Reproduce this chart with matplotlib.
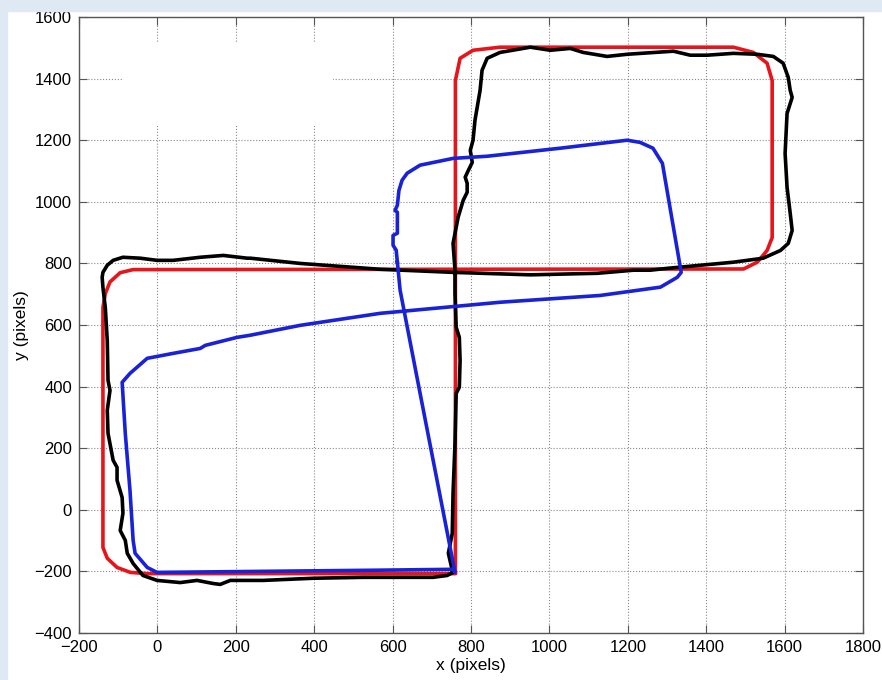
import matplotlib.pyplot as plt
from matplotlib.patches import Rectangle

plt.rcParams['font.family'] = ['Liberation Sans', 'DejaVu Sans']

# ground truth path (red)
red_x = [760, 760, 772, 805, 874, 1469, 1520, 1555, 1568, 1568, 1555, 1530, 1495,
         -62, -95, -121, -133, -139, -139, -128, -103, -69, -26, 760, 760]
red_y = [-205, 1394, 1466, 1492, 1502, 1502, 1485, 1450, 1394, 884, 842, 804, 782,
         780, 770, 740, 702, 657, -122, -157, -187, -203, -207, -207, -205]

# measured path (black)
black_x = [752, 742, 752, 754, 759, 762, 770, 772, 770, 762, 759, 759, 754, 767, 780,
           790, 790, 785, 793, 803, 798, 805, 810, 823, 828, 841, 874, 951, 1002,
           1053, 1086, 1147, 1198, 1316, 1359, 1402, 1469, 1530, 1571, 1596, 1609,
           1614, 1619, 1606, 1601, 1606, 1614, 1619, 1609, 1589, 1545, 1469, 1384,
           1300, 1257, 1214, 1122, 951, 754, 568, 364, 237, 229, 168, 109, 40, -1,
           -44, -88, -113, -128, -139, -141, -139, -133, -128, -126, -121, -128,
           -126, -113, -103, -103, -90, -88, -95, -82, -77, -62, -37, -1, 58, 101,
           142, 160, 186, 270, 397, 525, 652, 703, 739, 754, 752]
black_y = [-196, -141, -76, 54, 216, 378, 398, 485, 560, 593, 703, 778, 865, 950,
           1005, 1031, 1060, 1080, 1102, 1128, 1167, 1200, 1265, 1362, 1427, 1466,
           1485, 1502, 1492, 1498, 1485, 1472, 1479, 1489, 1476, 1476, 1482, 1479,
           1472, 1450, 1404, 1362, 1339, 1287, 1157, 1047, 963, 907, 865, 842, 817,
           804, 794, 784, 778, 778, 768, 763, 771, 781, 800, 817, 817, 826, 820, 810,
           810, 817, 820, 810, 794, 771, 755, 722, 657, 550, 420, 388, 323, 248, 161,
           138, 96, 40, -11, -67, -99, -141, -174, -213, -229, -236, -229, -239, -242,
           -229, -229, -222, -219, -219, -219, -213, -203, -196]

# estimated path (blue)
blue_x = [612, 609, 601, 601, 612, 612, 606, 612, 616, 624, 637, 670, 754, 841, 1027,
          1198, 1231, 1264, 1288, 1313, 1336, 1326, 1283, 1129, 874, 568, 364, 237,
          203, 122, 109, 40, -26, -70, -90, -82, -70, -62, -57, -26, -1, 550, 754,
          759, 670, 619, 612]
blue_y = [804, 843, 859, 891, 898, 966, 972, 989, 1037, 1070, 1093, 1119, 1141, 1148,
          1174, 1200, 1193, 1174, 1125, 940, 771, 755, 723, 696, 674, 638, 599, 567,
          560, 534, 524, 508, 492, 443, 414, 248, 63, -99, -141, -187, -203, -196,
          -193, -203, 378, 713, 804]

x_ticks = [-200, 0, 200, 400, 600, 800, 1000, 1200, 1400, 1600, 1800]
y_ticks = [-400, -200, 0, 200, 400, 600, 800, 1000, 1200, 1400, 1600]

fig = plt.figure(figsize=(8.82, 6.80), dpi=100)
fig.patch.set_facecolor('white')
# light blue slide background showing at the edges
fig.patches.append(Rectangle((0, 0.984), 1, 0.016, transform=fig.transFigure,
                             color='#dfe9f4', zorder=0))
fig.patches.append(Rectangle((0, 0), 0.008, 1, transform=fig.transFigure,
                             color='#dfe9f4', zorder=0))

ax = fig.add_axes([0.0896, 0.069, 0.889, 0.906])
ax.plot(red_x, red_y, color='#e8141b', lw=2.6, solid_joinstyle='round')
ax.plot(black_x, black_y, color='black', lw=2.6, solid_joinstyle='round')
ax.plot(blue_x, blue_y, color='#1a22d8', lw=2.6, solid_joinstyle='round')

ax.set_xlim(-200, 1800)
ax.set_ylim(-400, 1600)
ax.set_xticks(x_ticks)
ax.set_yticks(y_ticks)
ax.grid(True, ls=':', color='#8a8a8a', lw=0.8)
ax.tick_params(direction='in', top=True, right=True, length=6, labelsize=12,
               color='#555555', pad=5)
for s in ax.spines.values():
    s.set_color('#555555')
    s.set_linewidth(1.0)

# blanked-out legend area
ax.add_patch(Rectangle((0.055, 0.823), 0.269, 0.136, transform=ax.transAxes,
                       facecolor='white', edgecolor='none', zorder=1.8))

ax.set_xlabel('x (pixels)', fontsize=12.5, labelpad=2)
ax.set_ylabel('y (pixels)', fontsize=12.5, labelpad=4)

plt.savefig('out.png', dpi=100)
